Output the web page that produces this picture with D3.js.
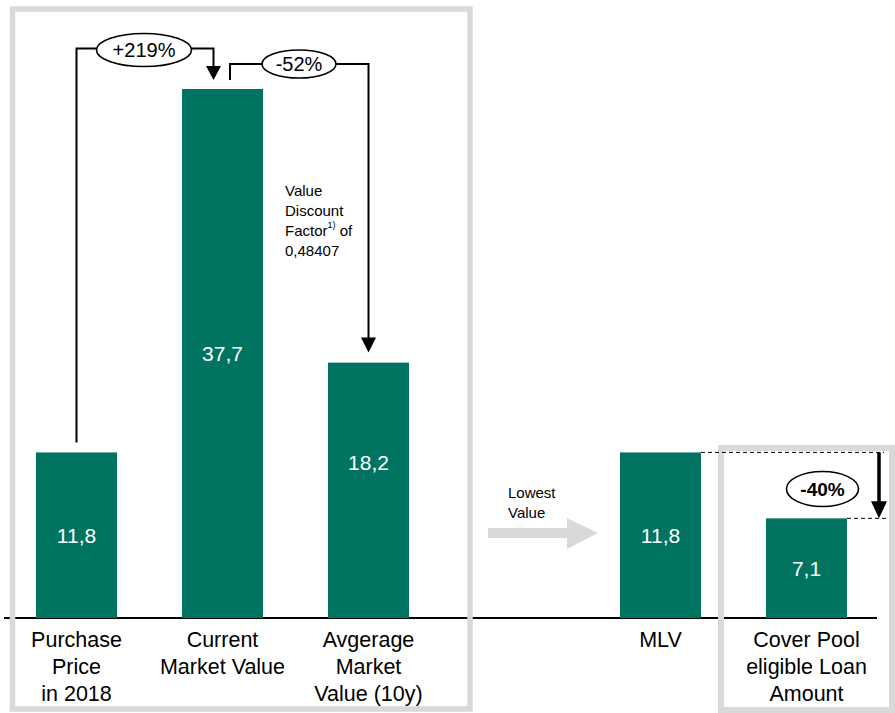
<!DOCTYPE html>
<html>
<head>
<meta charset="utf-8">
<script src="https://cdn.jsdelivr.net/npm/d3@7"></script>
<style>
  html, body { margin: 0; padding: 0; background: #fff; }
  svg { display: block; font-family: "Liberation Sans", Arial, sans-serif; }
</style>
</head>
<body>
<svg id="chart" width="895" height="713"></svg>
<script>
// Chart data
const slots = ["Purchase Price in 2018", "Current Market Value", "Avgerage Market Value (10y)", "Lowest Value", "MLV", "Cover Pool eligible Loan Amount"];
const categories = ["Purchase Price in 2018", "Current Market Value", "Avgerage Market Value (10y)", "MLV", "Cover Pool eligible Loan Amount"];
const categoryLines = [["Purchase", "Price", "in 2018"], ["Current", "Market Value"], ["Avgerage", "Market", "Value (10y)"], ["MLV"], ["Cover Pool", "eligible Loan", "Amount"]];
const values = [11.8, 37.7, 18.2, 11.8, 7.1];
const valueLabels = ["11,8", "37,7", "18,2", "11,8", "7,1"];
const changeLabels = ["+219%", "-52%", "-40%"];
const noteLines = ["Value", "Discount", "Factor", "0,48407"];
const arrowLines = ["Lowest", "Value"];

const green = "#007461";
const grey = "#d9d9d9";

const svg = d3.select("#chart");

const x = d3.scaleBand().domain(slots).range([3.5, 879.5]).paddingInner(0.445).paddingOuter(0.2225);
const y = d3.scaleLinear().domain([0, 37.7]).range([618, 89]);
const bw = x.bandwidth();
const cx = c => x(c) + bw / 2;

// Baseline
svg.append("line").attr("x1", 4).attr("x2", 877).attr("y1", y(0)).attr("y2", y(0))
  .attr("stroke", "#000").attr("stroke-width", 2);

// Grouping frames
svg.append("rect").attr("x", 12.5).attr("y", 9).attr("width", 457.5).attr("height", 700)
  .attr("fill", "none").attr("stroke", grey).attr("stroke-width", 5.5);
svg.append("rect").attr("x", 721).attr("y", 448).attr("width", 171).attr("height", 262)
  .attr("fill", "none").attr("stroke", grey).attr("stroke-width", 6);

// Bars
svg.selectAll("rect.bar").data(categories).join("rect").attr("class", "bar")
  .attr("x", d => x(d)).attr("width", bw)
  .attr("y", (d, i) => y(values[i])).attr("height", (d, i) => y(0) - y(values[i]))
  .attr("fill", green);

// Value labels inside bars
const labelFrac = [0.5, 0.5, 0.39, 0.5, 0.5];
svg.selectAll("text.val").data(categories).join("text").attr("class", "val")
  .attr("x", d => cx(d))
  .attr("y", (d, i) => y(values[i]) + (y(0) - y(values[i])) * labelFrac[i])
  .attr("dy", "0.35em").attr("text-anchor", "middle")
  .attr("fill", "#fff").attr("font-size", 21)
  .text((d, i) => valueLabels[i]);

// Category labels
categories.forEach((c, i) => {
  const t = svg.append("text").attr("text-anchor", "middle").attr("font-size", 21.5).attr("fill", "#000");
  categoryLines[i].forEach((ln, j) => {
    t.append("tspan").attr("x", cx(c)).attr("y", 639 + j * 27).attr("dy", "0.35em").text(ln);
  });
});

function arrowHead(g, tx, ty, w, h) {
  g.append("path")
    .attr("d", `M${tx - w / 2},${ty - h}L${tx + w / 2},${ty - h}L${tx},${ty}Z`)
    .attr("fill", "#000");
}
function badge(g, ex, ey, rx, ry, label, bold, fs) {
  g.append("ellipse").attr("cx", ex).attr("cy", ey).attr("rx", rx).attr("ry", ry)
    .attr("fill", "#fff").attr("stroke", "#000").attr("stroke-width", 1.6);
  g.append("text").attr("x", ex).attr("y", ey).attr("dy", "0.35em").attr("text-anchor", "middle")
    .attr("font-size", fs).attr("font-weight", bold ? "bold" : "normal").attr("fill", "#000").text(label);
}

const ann = svg.append("g");

// Purchase price -> current market value
const c0 = cx(slots[0]), c1 = cx(slots[1]), c2 = cx(slots[2]);
ann.append("path")
  .attr("d", `M${c0},${y(values[0]) - 10}V48.5H${c1 - 9}V68`)
  .attr("fill", "none").attr("stroke", "#000").attr("stroke-width", 2);
arrowHead(ann, c1 - 9, y(values[1]) - 9, 15, 14);
badge(ann, 144, 50, 47.5, 16.5, changeLabels[0], false, 20);

// Current market value -> average market value
ann.append("path")
  .attr("d", `M${c1 + 7.5},${y(values[1]) - 9}V64H${c2}V${y(values[2]) - 24}`)
  .attr("fill", "none").attr("stroke", "#000").attr("stroke-width", 2);
arrowHead(ann, c2, y(values[2]) - 10, 15, 15);
badge(ann, 299, 64, 37, 14, changeLabels[1], false, 20);

// Discount factor note
const note = svg.append("text").attr("font-size", 15).attr("fill", "#000");
noteLines.forEach((ln, j) => {
  note.append("tspan").attr("x", 285).attr("y", 191 + j * 20).attr("dy", "0.35em").text(ln);
  if (ln === "Factor") {
    note.append("tspan").attr("font-size", 9).attr("dy", "-0.9em").text("1)");
    note.append("tspan").attr("dy", "0.55em").text(" of");
  }
});

// Lowest value arrow
const s3 = x(slots[3]);
svg.append("path")
  .attr("d", `M${s3 + 14},528H${s3 + 93}V518L${s3 + 124},533L${s3 + 93},549V538H${s3 + 14}Z`)
  .attr("fill", grey);
const lt = svg.append("text").attr("font-size", 15).attr("fill", "#000");
arrowLines.forEach((ln, j) => {
  lt.append("tspan").attr("x", s3 + 34).attr("y", 493 + j * 20).attr("dy", "0.35em").text(ln);
});

// MLV -> cover pool haircut
const s4 = x(slots[4]), s5 = x(slots[5]);
svg.append("line").attr("x1", s4 + bw).attr("x2", 884).attr("y1", y(values[3])).attr("y2", y(values[3]))
  .attr("stroke", "#000").attr("stroke-width", 1).attr("stroke-dasharray", "4,3");
svg.append("line").attr("x1", s5 + bw).attr("x2", 889).attr("y1", y(values[4])).attr("y2", y(values[4]))
  .attr("stroke", "#000").attr("stroke-width", 1).attr("stroke-dasharray", "4,3");
svg.append("line").attr("x1", 879).attr("x2", 879).attr("y1", y(values[3])).attr("y2", y(values[4]) - 15)
  .attr("stroke", "#000").attr("stroke-width", 3.5);
arrowHead(svg, 879, y(values[4]), 16, 17);
badge(svg, 822.5, 489, 36, 17.5, changeLabels[2], true, 19);
</script>
</body>
</html>
